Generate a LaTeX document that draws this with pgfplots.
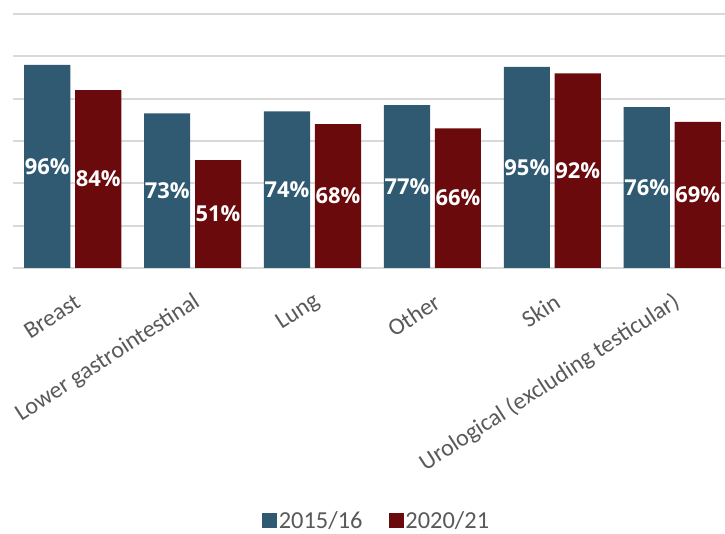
\documentclass[border=0pt]{standalone}
\usepackage{fontspec}
\setmainfont{Carlito}
\newfontfamily\labfont{Open Sans}
\usepackage{pgfplots}
\usepackage{pgfplotstable}
\pgfplotsset{compat=1.18}
\definecolor{cblue}{HTML}{305A72}
\definecolor{cred}{HTML}{6B0A0C}
\definecolor{gridc}{HTML}{D9D9D9}
\definecolor{txt}{HTML}{595959}
\pgfplotsset{sqlegend/.style={legend image code/.code={\fill[##1] (-3bp,-7.5bp) rectangle (12bp,7.5bp);}}}
\pgfplotstableread{
x a b
0 96 84
1 73 51
2 74 68
3 77 66
4 95 92
5 76 69
}\data
\begin{document}
\begin{tikzpicture}[x=1bp,y=1bp]
\useasboundingbox (0,0) rectangle (725,534);
\begin{axis}[at={(12.75bp,266bp)}, anchor=south west, scale only axis,
  width=712.25bp, height=254bp,
  xmin=-0.5, xmax=5.44, ymin=0, ymax=120,
  clip=false,
  /pgf/number format/assume math mode=true,
  axis line style={draw=none},
  ytick={0,20,...,120}, yticklabels={},
  ymajorgrids, grid style={gridc, line width=2bp},
  major tick length=0pt,
  xtick={0,...,5},
  xticklabels={Breast,Lower gastrointestinal,Lung,Other,Skin,Urological (excluding testicular)},
  xticklabel style={font=\fontsize{24}{24}\selectfont, text=txt, xshift=8bp, yshift=-30bp, rotate=33, anchor=east},
  legend style={at={(0.5107,-0.996)}, anchor=center, draw=none, fill=none,
    legend columns=2, font=\fontsize{24.5}{24.5}\selectfont, text=txt,
    /tikz/every even column/.append style={column sep=24bp}},
]
\addplot[ybar, bar width=0.385, bar shift=-0.2125, fill=cblue, draw=none, sqlegend]
  table[x=x,y=a]{\data};
\addlegendentry{2015/16}
\addplot[ybar, bar width=0.385, bar shift=0.2125, fill=cred, draw=none, sqlegend]
  table[x=x,y=b]{\data};
\addlegendentry{2020/21}
\addplot[draw=none, mark=none, forget plot,
  nodes near coords={\pgfmathprintnumber{\pgfplotspointmeta}\%}, point meta=explicit,
  every node near coord/.append style={anchor=center, text=white, font=\labfont\bfseries\fontsize{22}{22}\selectfont}]
  table[x expr=\thisrow{x}-0.2125, y expr=\thisrow{a}/2, meta=a]{\data};
\addplot[draw=none, mark=none, forget plot,
  nodes near coords={\pgfmathprintnumber{\pgfplotspointmeta}\%}, point meta=explicit,
  every node near coord/.append style={anchor=center, text=white, font=\labfont\bfseries\fontsize{22}{22}\selectfont}]
  table[x expr=\thisrow{x}+0.2125, y expr=\thisrow{b}/2, meta=b]{\data};
\end{axis}
\end{tikzpicture}
\end{document}
